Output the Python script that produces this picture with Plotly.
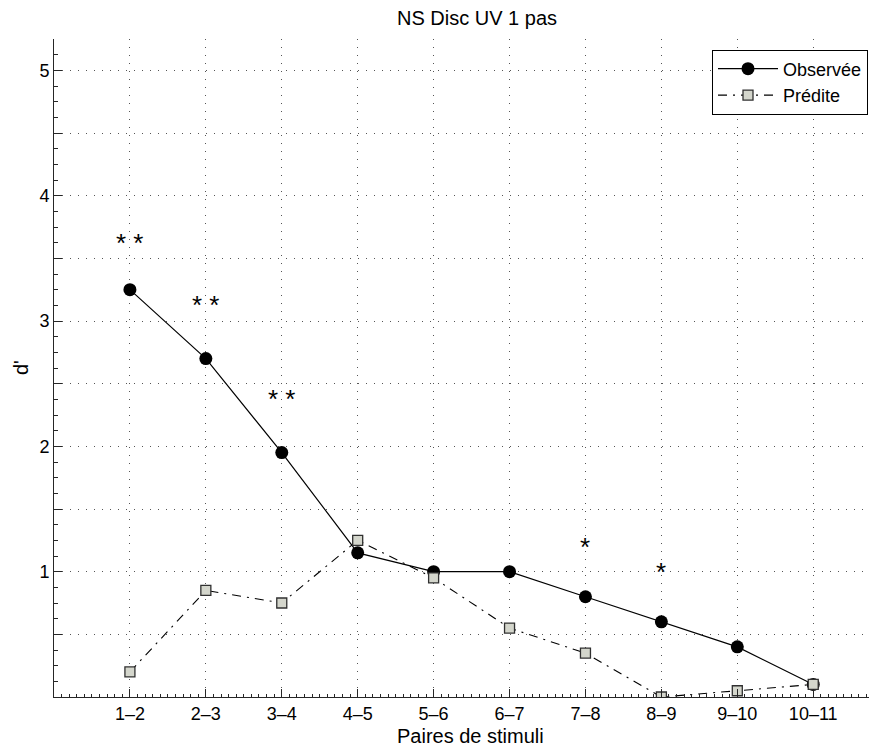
import plotly.graph_objects as go

pairs = ["1–2", "2–3", "3–4", "4–5", "5–6", "6–7", "7–8", "8–9", "9–10", "10–11"]
observed = [3.25, 2.70, 1.95, 1.15, 1.00, 1.00, 0.80, 0.60, 0.40, 0.10]
predicted = [0.20, 0.85, 0.75, 1.25, 0.95, 0.55, 0.35, 0.00, 0.05, 0.10]
star_pairs = ["1–2", "2–3", "3–4", "7–8", "8–9"]
star_labels = ["* *", "* *", "* *", "*", "*"]
star_heights = [3.65, 3.15, 2.40, 1.22, 1.02]
y_tick_values = [0, 0.5, 1, 1.5, 2, 2.5, 3, 3.5, 4, 4.5, 5, 5.25]
y_tick_labels = ["", "", "1", "", "2", "", "3", "", "4", "", "5", ""]

FONT = "Liberation Sans, Arial, Helvetica, sans-serif"
x_pos = [i + 1 for i in range(len(pairs))]
pos_of = dict(zip(pairs, x_pos))

# page body has an 8px default margin: figure sized/margined to compensate
W, H = 869, 741
ML, MT, MB, MR = 46, 31, 52, 0
PW, PH = W - ML - MR, H - MT - MB

fig = go.Figure()
fig.add_trace(go.Scatter(
    x=x_pos, y=observed, name="Observée", mode="lines+markers",
    line=dict(color="black", width=1.2),
    marker=dict(symbol="circle", size=13, color="black", line=dict(width=0)),
))
fig.add_trace(go.Scatter(
    x=x_pos, y=predicted, name="Prédite", mode="lines+markers",
    line=dict(color="black", width=1.1, dash="9px,6px,2px,6px"),
    marker=dict(symbol="square", size=10, color="#d4d6cc",
                line=dict(color="#303030", width=1.3)),
))

for p, lab, h in zip(star_pairs, star_labels, star_heights):
    fig.add_annotation(x=pos_of[p], y=h, text=lab, showarrow=False,
                       xref="x", yref="y", yshift=-3,
                       font=dict(family=FONT, size=26, color="black"))

fig.add_annotation(text="Paires de stimuli", xref="paper", yref="paper",
                   x=(471 - 54) / PW, y=0, yanchor="middle", yshift=-39, showarrow=False,
                   font=dict(family=FONT, size=20, color="black"))
fig.add_annotation(text="d'", xref="paper", yref="paper", textangle=-90,
                   x=0, y=0.5, xanchor="center", xshift=-33, showarrow=False,
                   font=dict(family=FONT, size=20, color="black"))

fig.update_layout(
    width=W, height=H,
    margin=dict(l=ML, r=MR, t=MT, b=MB, autoexpand=False),
    paper_bgcolor="white", plot_bgcolor="white",
    font=dict(family=FONT, size=18, color="black"),
    title=dict(text="NS Disc UV 1 pas", x=(477 - 8) / W, xref="container",
               y=1 - (18 - 8) / H, yref="container", xanchor="center", yanchor="middle",
               font=dict(family=FONT, size=20, color="black")),
    legend=dict(x=(712 - 54) / PW, y=(697 - 49.5) / PH, xanchor="left", yanchor="top",
                bgcolor="white", bordercolor="black", borderwidth=1,
                font=dict(family=FONT, size=18, color="black"),
                itemwidth=60, tracegroupgap=0),
    showlegend=True,
)
fig.update_xaxes(
    range=[0, 10.84], tickmode="array", tickvals=x_pos, ticktext=pairs,
    showline=True, linecolor="#262626", linewidth=1,
    ticks="inside", ticklen=8, tickcolor="#262626",
    showgrid=True, gridcolor="#555555", gridwidth=1, griddash="1px,7px",
    zeroline=False, tickfont=dict(family=FONT, size=18, color="black"),
    minor=dict(ticks="inside", ticklen=3, tickcolor="#262626", dtick=0.1, tick0=0, showgrid=False),
)
fig.update_yaxes(
    range=[0, 5.25], tickmode="array", tickvals=y_tick_values, ticktext=y_tick_labels,
    showline=True, linecolor="#262626", linewidth=1,
    ticks="inside", ticklen=8, tickcolor="#262626",
    showgrid=True, gridcolor="#555555", gridwidth=1, griddash="1px,7px",
    zeroline=False, tickfont=dict(family=FONT, size=18, color="black"),
    minor=dict(ticks="inside", ticklen=4, tickcolor="#262626", dtick=0.125, tick0=0, showgrid=False),
)

fig.write_html("out.html")
